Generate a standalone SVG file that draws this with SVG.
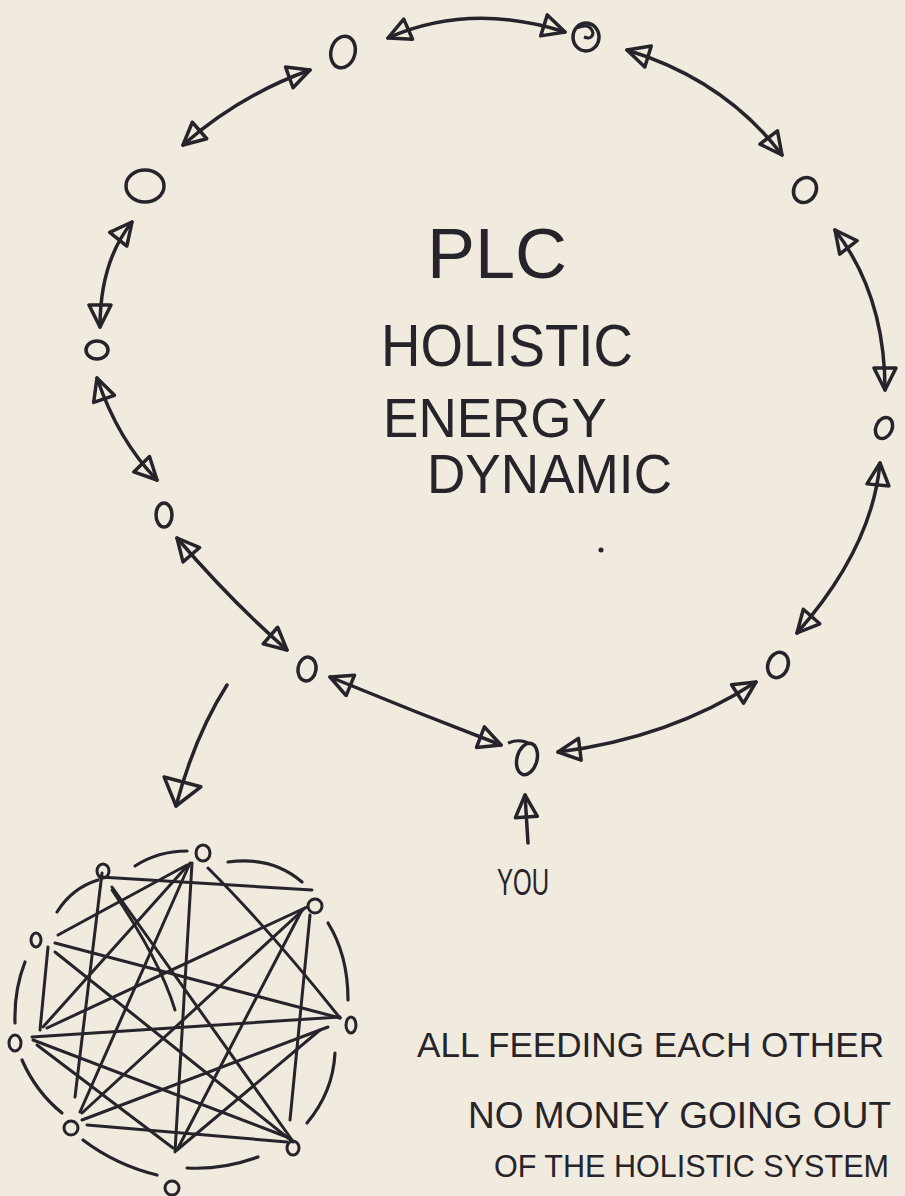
<svg xmlns="http://www.w3.org/2000/svg" width="905" height="1196" viewBox="0 0 905 1196">
<style>
.bg{fill:#f1ebdf}
.node{fill:none;stroke:#26242a;stroke-width:3.5}
.small{fill:none;stroke:#26242a;stroke-width:3}
.con{fill:none;stroke:#26242a;stroke-width:3.5;stroke-linecap:round}
.edge{fill:none;stroke:#26242a;stroke-width:3;stroke-linecap:round}
.arc{fill:none;stroke:#26242a;stroke-width:3.2;stroke-linecap:round}
.t{font-family:'Liberation Sans',Arial,sans-serif;fill:#26242a}
</style>
<defs>
<marker id="tri" markerUnits="userSpaceOnUse" viewBox="0 0 28 26" refX="25" refY="13" markerWidth="28" markerHeight="26" orient="auto-start-reverse">
<path d="M3,2 L25,13 L3,24 Z" fill="none" stroke="#26242a" stroke-width="3.5" stroke-linejoin="round"/>
</marker>
<marker id="triBig" markerUnits="userSpaceOnUse" viewBox="0 0 32 42" refX="28" refY="21" markerWidth="32" markerHeight="42" orient="auto">
<path d="M3,2 L28,21 L3,40 Z" fill="none" stroke="#26242a" stroke-width="3.5" stroke-linejoin="round"/>
</marker>
</defs>
<rect class="bg" x="0" y="0" width="905" height="1196"/>

<g id="connectors">
<path class="con" d="M183,145 Q240,95 310,70" marker-start="url(#tri)" marker-end="url(#tri)"/>
<path class="con" d="M388,38 Q470,2 565,32" marker-start="url(#tri)" marker-end="url(#tri)"/>
<path class="con" d="M627,50 Q725,80 782,155" marker-start="url(#tri)" marker-end="url(#tri)"/>
<path class="con" d="M835,230 Q885,295 885,390" marker-start="url(#tri)" marker-end="url(#tri)"/>
<path class="con" d="M880,463 Q872,548 797,633" marker-start="url(#tri)" marker-end="url(#tri)"/>
<path class="con" d="M756,682 Q670,738 558,752" marker-start="url(#tri)" marker-end="url(#tri)"/>
<path class="con" d="M501,745 Q415,712 330,677" marker-start="url(#tri)" marker-end="url(#tri)"/>
<path class="con" d="M287,650 Q232,602 177,538" marker-start="url(#tri)" marker-end="url(#tri)"/>
<path class="con" d="M157,480 Q118,440 97,378" marker-start="url(#tri)" marker-end="url(#tri)"/>
<path class="con" d="M100,327 Q100,262 132,222" marker-start="url(#tri)" marker-end="url(#tri)"/>
<path class="con" d="M528,843 L525,795" marker-end="url(#tri)"/>
<path class="con" d="M227,685 Q195,735 176,806" marker-end="url(#triBig)"/>
</g>

<g id="node-a"><ellipse class="node" cx="343" cy="52" rx="12" ry="16" transform="rotate(15 343 52)"/></g>
<g id="node-b"><ellipse class="node" cx="586" cy="37" rx="13" ry="14"/><path class="small" d="M577,28 Q590,22 593,33 Q592,40 584,37"/></g>
<g id="node-c"><ellipse class="node" cx="805" cy="190" rx="11" ry="13" transform="rotate(30 805 190)"/></g>
<g id="node-d"><ellipse class="node" cx="884" cy="428" rx="8" ry="11" transform="rotate(25 884 428)"/></g>
<g id="node-e"><ellipse class="node" cx="778" cy="665" rx="10" ry="13" transform="rotate(20 778 665)"/></g>
<g id="node-f"><ellipse class="node" cx="527" cy="759" rx="10" ry="16" transform="rotate(15 527 759)"/><path class="small" d="M508,743 Q520,738 530,744"/></g>
<g id="node-g"><ellipse class="node" cx="307" cy="669" rx="9" ry="12" transform="rotate(10 307 669)"/></g>
<g id="node-h"><ellipse class="node" cx="164" cy="515" rx="8" ry="12"/></g>
<g id="node-i"><ellipse class="node" cx="97" cy="350" rx="11" ry="9"/></g>
<g id="node-j"><ellipse class="node" cx="145" cy="186" rx="19" ry="16"/></g>

<g id="title">
<text class="t" x="427" y="278" font-size="70" textLength="140" lengthAdjust="spacingAndGlyphs">PLC</text>
<text class="t" x="381" y="366" font-size="60" textLength="252" lengthAdjust="spacingAndGlyphs">HOLISTIC</text>
<text class="t" x="383" y="437" font-size="56" textLength="224" lengthAdjust="spacingAndGlyphs">ENERGY</text>
<text class="t" x="427" y="493" font-size="56" textLength="245" lengthAdjust="spacingAndGlyphs">DYNAMIC</text>
<circle cx="601" cy="550" r="2.5" fill="#26242a"/>
</g>

<g id="you"><text class="t" x="497" y="895" font-size="36" textLength="52" lengthAdjust="spacingAndGlyphs">YOU</text></g>

<g id="network">
<g id="network-edges">
<path class="edge" d="M102,873 L75,1097"/>
<path class="edge" d="M100,877 L312,890"/>
<path class="edge" d="M112,887 L292,1140"/>
<path class="edge" d="M192,863 L175,1152"/>
<path class="edge" d="M190,863 L80,1112"/>
<path class="edge" d="M188,865 L43,1027"/>
<path class="edge" d="M187,865 L58,935"/>
<path class="edge" d="M208,868 Q270,930 340,1018"/>
<path class="edge" d="M307,907 L47,1028"/>
<path class="edge" d="M305,908 L82,1113"/>
<path class="edge" d="M310,915 L290,1120"/>
<path class="edge" d="M302,910 L177,1150"/>
<path class="edge" d="M55,943 L340,1018"/>
<path class="edge" d="M55,952 L293,1142"/>
<path class="edge" d="M48,947 L40,1030"/>
<path class="edge" d="M32,1037 L340,1017"/>
<path class="edge" d="M33,1040 L287,1137"/>
<path class="edge" d="M37,1045 L173,1148"/>
<path class="edge" d="M87,1125 L287,1142"/>
<path class="edge" d="M82,1120 L328,1027"/>
<path class="edge" d="M177,1150 L320,1030"/>
<path class="edge" d="M112,890 Q160,960 175,1010"/>
</g>
<g id="network-ring">
<path class="arc" d="M135,866 Q158,851 187,851"/>
<path class="arc" d="M228,862 Q272,856 302,882"/>
<path class="arc" d="M328,923 Q348,955 348,1000"/>
<path class="arc" d="M335,1053 Q333,1092 307,1123"/>
<path class="arc" d="M258,1157 Q222,1170 187,1168"/>
<path class="arc" d="M157,1175 Q116,1165 83,1140"/>
<path class="arc" d="M62,1113 Q36,1092 22,1060"/>
<path class="arc" d="M15,1023 Q14,990 25,962"/>
<path class="arc" d="M57,912 Q72,888 98,880"/>
</g>
<g id="nn1"><ellipse class="small" cx="203" cy="853" rx="7" ry="8"/></g>
<g id="nn2"><ellipse class="small" cx="103" cy="871" rx="6" ry="7"/></g>
<g id="nn3"><ellipse class="small" cx="315" cy="906" rx="7" ry="7"/></g>
<g id="nn4"><ellipse class="small" cx="36" cy="940" rx="5" ry="7"/></g>
<g id="nn5"><ellipse class="small" cx="351" cy="1025" rx="5" ry="8"/></g>
<g id="nn6"><ellipse class="small" cx="15" cy="1043" rx="6" ry="8"/></g>
<g id="nn7"><ellipse class="small" cx="71" cy="1128" rx="7" ry="7"/></g>
<g id="nn8"><ellipse class="small" cx="293" cy="1148" rx="6" ry="7"/></g>
<g id="nn9"><ellipse class="small" cx="172" cy="1188" rx="7" ry="7"/></g>
</g>

<g id="note">
<text class="t" x="417" y="1057" font-size="35" textLength="467" lengthAdjust="spacingAndGlyphs">ALL FEEDING EACH OTHER</text>
<text class="t" x="468" y="1128" font-size="37" textLength="423" lengthAdjust="spacingAndGlyphs">NO MONEY GOING OUT</text>
<text class="t" x="494" y="1177" font-size="30.5" textLength="395" lengthAdjust="spacingAndGlyphs">OF THE HOLISTIC SYSTEM</text>
</g>
</svg>
